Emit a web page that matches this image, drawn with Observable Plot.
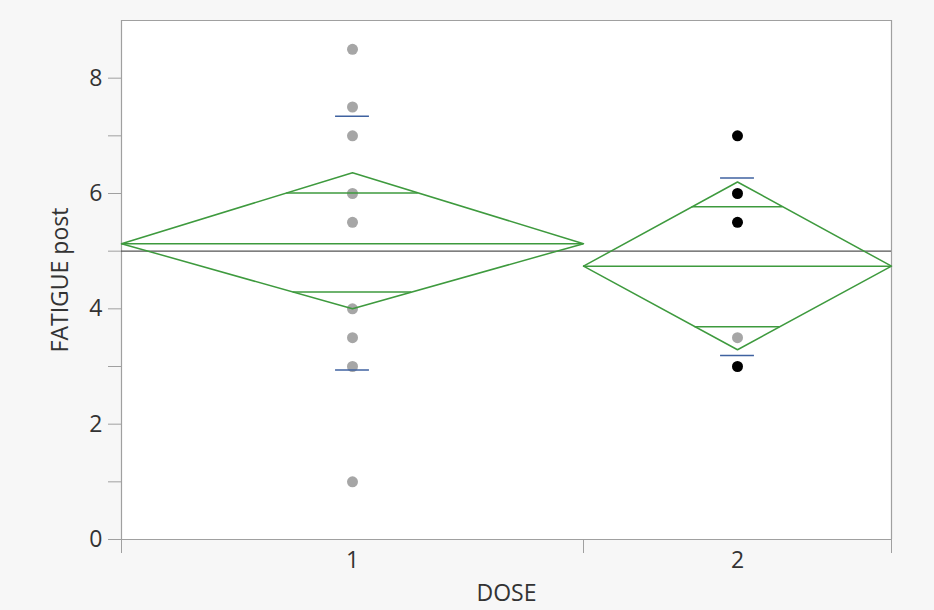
<!DOCTYPE html>
<html>
<head>
<meta charset="utf-8">
<script src="https://cdn.jsdelivr.net/npm/d3@7"></script>
<script src="https://cdn.jsdelivr.net/npm/@observablehq/plot@0.6"></script>
<style>
  html, body { margin: 0; padding: 0; background: #f7f7f7; }
</style>
</head>
<body>
<div id="chart"></div>
<script>
// ---- data ----
const groups = ["1", "2"];
const groupN = [12, 8];
const groupMean = [5.13, 4.74];
const ciUpper = [6.36, 6.20];
const ciLower = [4.00, 3.29];
const overlapUpper = [6.01, 5.77];
const overlapLower = [4.29, 3.69];
const sdUpper = [7.34, 6.27];
const sdLower = [2.94, 3.19];
const grandMean = 5.0;

const pointGroup = ["1","1","1","1","1","1","1","1","1","2","2","2","2","2"];
const pointValue = [8.5, 7.5, 7, 6, 5.5, 4, 3.5, 3, 1, 7, 6, 5.5, 3.5, 3];
const pointShade = ["light","light","light","light","light","light","light","light","light",
                    "dark","dark","dark","light","dark"];

const yMajorTicks = [0, 2, 4, 6, 8];
const yMinorTicks = [1, 3, 5, 7];

// ---- derived layout from sample sizes ----
const total = d3.sum(groupN);
const starts = groupN.map((n, i) => d3.sum(groupN.slice(0, i)));
const ends = groupN.map((n, i) => starts[i] + n);
const centers = groupN.map((n, i) => starts[i] + n / 2);
const boundaries = [0, ...ends];

const diamond = [];
groups.forEach((g, i) => {
  diamond.push({g, x: starts[i], y: groupMean[i]});
  diamond.push({g, x: centers[i], y: ciUpper[i]});
  diamond.push({g, x: ends[i], y: groupMean[i]});
  diamond.push({g, x: centers[i], y: ciLower[i]});
  diamond.push({g, x: starts[i], y: groupMean[i]});
});

const overlaps = [];
groups.forEach((g, i) => {
  const hw = groupN[i] / 2;
  const fu = (ciUpper[i] - overlapUpper[i]) / (ciUpper[i] - groupMean[i]);
  const fl = (overlapLower[i] - ciLower[i]) / (groupMean[i] - ciLower[i]);
  overlaps.push({y: overlapUpper[i], x1: centers[i] - hw * fu, x2: centers[i] + hw * fu});
  overlaps.push({y: overlapLower[i], x1: centers[i] - hw * fl, x2: centers[i] + hw * fl});
});

const sdHalf = 0.44;
const sdMarks = [];
groups.forEach((g, i) => {
  sdMarks.push({y: sdUpper[i], x1: centers[i] - sdHalf, x2: centers[i] + sdHalf});
  sdMarks.push({y: sdLower[i], x1: centers[i] - sdHalf, x2: centers[i] + sdHalf});
});

const means = groups.map((g, i) => ({y: groupMean[i], x1: starts[i], x2: ends[i]}));

const points = pointValue.map((v, i) => ({
  x: centers[groups.indexOf(pointGroup[i])],
  y: v,
  shade: pointShade[i]
}));

const green = "#3e9a3e";
const axisGray = "#a0a0a0";

const chart = Plot.plot({
  width: 934,
  height: 610,
  marginLeft: 121,
  marginRight: 43,
  marginTop: 20,
  marginBottom: 71,
  style: {fontFamily: "'Open Sans', 'Noto Sans', sans-serif", fontSize: "23px", color: "#333", background: "#f7f7f7"},
  x: {type: "linear", domain: [0, total]},
  y: {domain: [0, 9]},
  marks: [
    Plot.frame({fill: "white", stroke: null}),
    // axes
    Plot.axisY({ticks: yMajorTicks, tickSize: 13, tickPadding: 6, stroke: axisGray, fontSize: 23,
                label: "FATIGUE post", labelAnchor: "center", labelArrow: "none", labelOffset: 70}),
    Plot.axisY({ticks: yMinorTicks, tickSize: 13, stroke: axisGray, text: null, label: null}),
    Plot.axisX({ticks: boundaries, tickSize: 14, stroke: axisGray, text: null, label: null}),
    Plot.axisX({ticks: centers, tickSize: 0, tickPadding: 12, fontSize: 23,
                tickFormat: (d) => groups[centers.indexOf(d)],
                label: "DOSE", labelAnchor: "center", labelArrow: "none", labelOffset: 61}),
    Plot.ruleX([0, total], {stroke: axisGray, strokeWidth: 1.2}),
    Plot.ruleY([0, 9], {stroke: axisGray, strokeWidth: 1.2}),
    // points
    Plot.dot(points, {x: "x", y: "y", r: 5.5, stroke: null,
      fill: (d) => d.shade === "dark" ? "#000" : "#a6a6a6"}),
    // grand mean
    Plot.ruleY([grandMean], {stroke: "#555", strokeWidth: 1.3}),
    // diamonds
    Plot.line(diamond, {x: "x", y: "y", z: "g", stroke: green, strokeWidth: 1.5}),
    Plot.ruleY(means, {y: "y", x1: "x1", x2: "x2", stroke: green, strokeWidth: 1.5}),
    Plot.ruleY(overlaps, {y: "y", x1: "x1", x2: "x2", stroke: green, strokeWidth: 1.5}),
    // std dev marks
    Plot.ruleY(sdMarks, {y: "y", x1: "x1", x2: "x2", stroke: "#3f62a0", strokeWidth: 1.5})
  ]
});
document.getElementById("chart").appendChild(chart);
</script>
</body>
</html>
